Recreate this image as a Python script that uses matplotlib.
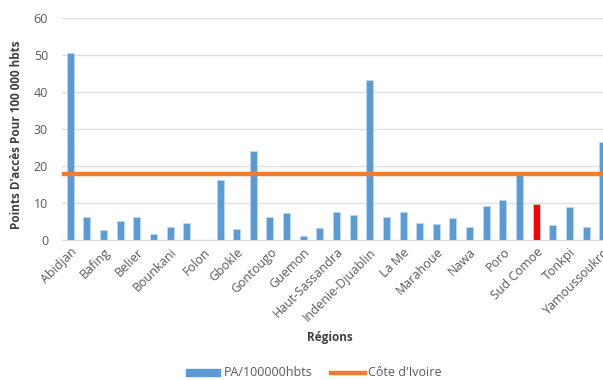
import numpy as np
import matplotlib
matplotlib.use("Agg")
import matplotlib.pyplot as plt

plt.rcParams['font.family'] = ['Open Sans', 'DejaVu Sans']

regions = ["Abidjan", "Agneby-Tiassa", "Bafing", "Bagoue", "Belier", "Bere",
           "Bounkani", "Cavally", "Folon", "Gbeke", "Gbokle", "Goh", "Gontougo",
           "Grands-Ponts", "Guemon", "Hambol", "Haut-Sassandra", "Iffou",
           "Indenie-Djuablin", "Kabadougou", "La Me", "Loh-Djiboua", "Marahoue",
           "Moronou", "Nawa", "N'Zi", "Poro", "San-Pedro", "Sud Comoe",
           "Tchologo", "Tonkpi", "Worodougou", "Yamoussoukro"]
pa = [50.5, 6.3, 2.8, 5.2, 6.3, 1.5, 3.5, 4.5, 0.0, 16.3, 3.1, 24.0, 6.2,
      7.3, 1.2, 3.2, 7.5, 6.8, 43.3, 6.2, 7.5, 4.6, 4.2, 6.0, 3.4, 9.3,
      10.7, 17.5, 9.8, 4.1, 8.9, 3.6, 26.5]
cote_ivoire = 17.8
highlight = "Sud Comoe"

fig = plt.figure(figsize=(6.03, 3.8), dpi=100)
ax = fig.add_axes([62/603, 140/380, 549/603, 222/380])

x = np.arange(len(regions))
colors = ['#ff0000' if r == highlight else '#5b9bd5' for r in regions]
bars = ax.bar(x, pa, width=0.42, color=colors, edgecolor='#bdd7ee', linewidth=0.6,
              zorder=2)
line = ax.axhline(cote_ivoire, color='#ed7d31', linewidth=3.2, zorder=3)

ax.set_xlim(-0.5, len(regions) - 0.5)
ax.set_ylim(0, 60)
ax.set_yticks(range(0, 61, 10))
ax.set_xticks(x[::2])
ax.set_xticklabels(regions[::2], rotation=45, ha='right', rotation_mode='anchor')
ax.tick_params(axis='both', length=0, labelsize=9, colors='#595959')
ax.tick_params(axis='x', pad=4)
ax.tick_params(axis='y', pad=10)
ax.grid(axis='y', color='#e0e0e0', linewidth=1, zorder=0)
for s in ['top', 'right', 'left']:
    ax.spines[s].set_visible(False)
ax.spines['bottom'].set_color('#d9d9d9')

fig.text(17/603, 1 - 135/380, "Points D'accès Pour 100 000 hbts", rotation=90,
         ha='center', va='center', fontsize=8.5, fontweight='bold', color='#404040')
fig.text(330/603, 1 - 337/380, "Régions", ha='center', va='center',
         fontsize=8.5, fontweight='bold', color='#404040')

patch = plt.Rectangle((0, 0), 1, 1, color='#5b9bd5')
fig.legend([patch, line], ['PA/100000hbts', "Côte d'Ivoire"],
           loc='center', bbox_to_anchor=(314/603, 1 - 373/380), ncol=2, frameon=False,
           fontsize=9, labelcolor='#595959', handlelength=2.7, handleheight=0.5,
           columnspacing=1.5, handletextpad=0.3)

fig.savefig("out.png", dpi=100)
